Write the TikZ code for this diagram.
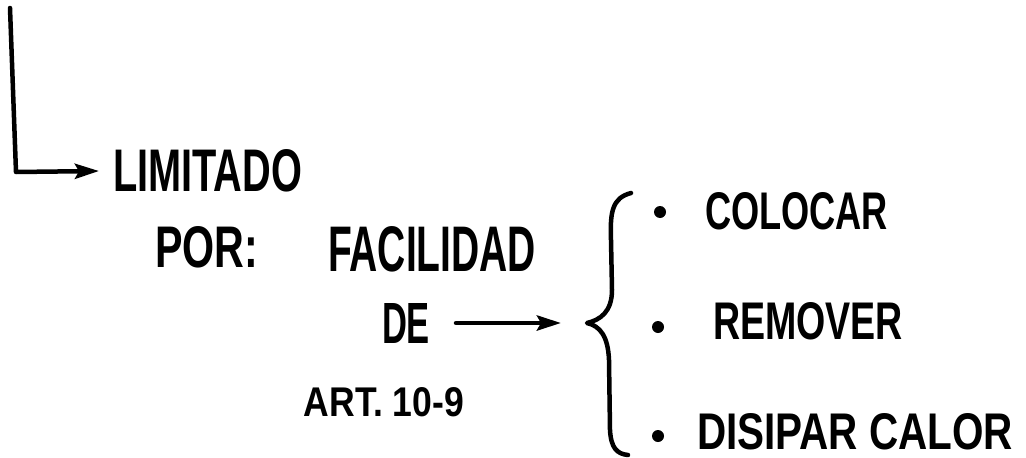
\documentclass[tikz,border=0pt]{standalone}
\usepackage{fontspec}
\usepackage{graphicx}
\setmainfont{Liberation Sans}
\usetikzlibrary{arrows.meta}
\newcommand{\hwtext}[3]{\resizebox{#1pt}{#2pt}{#3}}
\tikzset{
  hw/.style={inner sep=0pt, outer sep=0pt, anchor=center, font=\fontsize{40}{44}\selectfont\bfseries},
  conn/.style={line width=4.5pt, line cap=round, line join=round},
  arr/.style={conn, -{Stealth[length=24pt,width=15pt,inset=4pt]}},
  bullet/.style={circle, fill=black, inner sep=0pt, minimum size=12pt}
}
\begin{document}
\begin{tikzpicture}[x=1pt,y=-1pt]
\useasboundingbox (0,0) rectangle (1026,458);
% texts
\node[hw] (lim) at (207.5,171) {\hwtext{189}{42}{LIMITADO}};
\node[hw] (por) at (206.5,247.5) {\hwtext{103}{41}{POR:}};
\node[hw] (fac) at (432,249.5) {\hwtext{208}{45}{FACILIDAD}};
\node[hw] (de) at (406,323) {\hwtext{48}{40}{DE}};
\node[hw] (art) at (384,402) {\hwtext{160}{29}{ART. 10-9}};
\node[hw] (col) at (796.5,211.5) {\hwtext{183}{37}{COLOCAR}};
\node[hw] (rem) at (808,321.5) {\hwtext{190}{37}{REMOVER}};
\node[hw] (dis) at (855,432) {\hwtext{316}{36}{DISIPAR CALOR}};
% bullets
\node[bullet] (b1) at (660,212) {};
\node[bullet] (b2) at (658,327) {};
\node[bullet] (b3) at (658,436) {};
% L connector
\coordinate (top) at (10,8);
\coordinate (corner) at (16,172);
\draw[arr] (top) -- (corner) -- ([xshift=-14pt]lim.west);
% brace
\coordinate (bt) at (587,323);
\draw[conn] (631,193) .. controls (612,198) and (610,212) .. (611,240)
  -- (612,290) .. controls (612,312) and (600,320) .. (bt)
  .. controls (600,326) and (608,336) .. (609,360)
  -- (610,430) .. controls (611,448) and (617,454) .. (628,455);
% DE arrow
\draw[arr] ([xshift=26pt]de.east) -- ([xshift=-26pt]bt);
\end{tikzpicture}
\end{document}
